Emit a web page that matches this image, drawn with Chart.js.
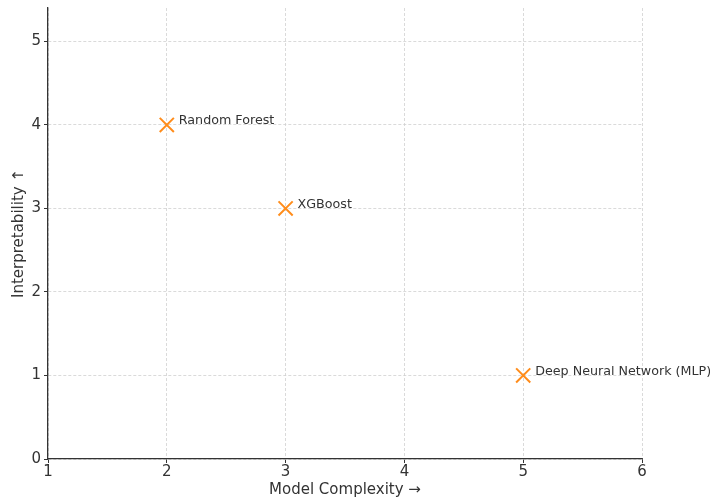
<!DOCTYPE html>
<html>
<head>
<meta charset="utf-8">
<script src="https://cdn.jsdelivr.net/npm/chart.js@4"></script>
<style>
  body { margin: 0; background: #fff; }
  #wrap { width: 710px; height: 501px; }
</style>
</head>
<body>
<div id="wrap"><canvas id="myChart" width="710" height="501"></canvas></div>
<script>
// model name, complexity (x), interpretability (y)
const models = ["Random Forest", "XGBoost", "Deep Neural Network (MLP)"];
const complexity = [2, 3, 5];
const interpretability = [4, 3, 1];
const xTicks = [1, 2, 3, 4, 5, 6];
const yTicks = [0, 1, 2, 3, 4, 5];

const font = "'DejaVu Sans', sans-serif";

// write model names next to the crosses
const labelPlugin = {
    id: "pointLabels",
    afterDatasetsDraw(chart) {
        const ctx = chart.ctx;
        const xs = chart.scales.x, ys = chart.scales.y;
        ctx.save();
        ctx.font = "12.7px " + font;
        ctx.fillStyle = "#333";
        ctx.textAlign = "left";
        ctx.textBaseline = "middle";
        for (let i = 0; i < models.length; i++) {
            ctx.fillText(models[i], xs.getPixelForValue(complexity[i]) + 12, ys.getPixelForValue(interpretability[i]) - 4);
        }
        ctx.restore();
    }
};

const ctx = document.getElementById("myChart");
new Chart(ctx, {
    type: "scatter",
    data: {
        datasets: [{
            data: complexity.map((x, i) => ({ x: x, y: interpretability[i] })),
            pointStyle: "crossRot",
            radius: 10,
            hoverRadius: 10,
            borderWidth: 2,
            borderColor: "#ff8c1a",
            backgroundColor: "#ff8c1a"
        }]
    },
    options: {
        responsive: false,
        animation: false,
        layout: { autoPadding: false, padding: { top: 8, right: 68, left: 0, bottom: 0 } },
        plugins: { legend: { display: false }, tooltip: { enabled: false } },
        scales: {
            x: {
                type: "linear",
                min: 1, max: 6,
                afterBuildTicks: (s) => { s.ticks = xTicks.map(v => ({ value: v })); },
                afterFit: (s) => { s.height = 42; },
                ticks: { color: "#333", font: { family: font, size: 15 }, padding: 0, maxRotation: 0 },
                grid: { color: "#d0d0d0", lineWidth: 0.8, tickColor: "#333", tickLength: 4, tickBorderDash: [], tickWidth: 1 },
                border: { display: true, color: "#333", width: 1.3, dash: [3, 2] },
                title: { display: true, text: "Model Complexity →", color: "#333", font: { family: font, size: 15 }, padding: { top: 0, bottom: 2 } }
            },
            y: {
                type: "linear",
                min: 0, max: 5.4,
                afterBuildTicks: (s) => { s.ticks = yTicks.map(v => ({ value: v })); },
                afterFit: (s) => { s.width = 48; s.paddingTop = 0; s.paddingBottom = 0; },
                ticks: { color: "#333", font: { family: font, size: 15 }, padding: 3 },
                grid: { color: "#d0d0d0", lineWidth: 0.8, tickColor: "#333", tickLength: 4, tickBorderDash: [], tickWidth: 1 },
                border: { display: true, color: "#333", width: 1.3, dash: [3, 2] },
                title: { display: true, text: "Interpretability ↑", color: "#333", font: { family: font, size: 15 }, padding: { top: 10, bottom: 4 } }
            }
        }
    },
    plugins: [labelPlugin]
});
</script>
</body>
</html>
